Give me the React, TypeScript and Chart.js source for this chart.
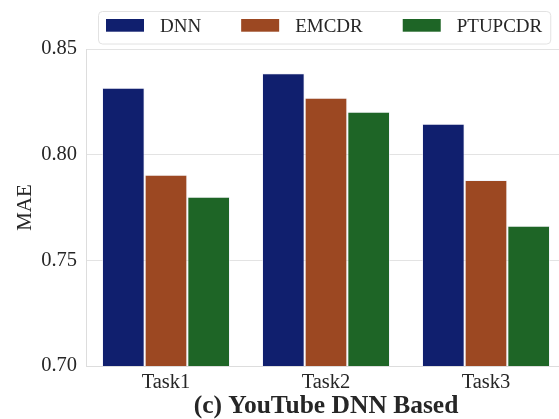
import React, { useEffect, useRef } from "react";
import { Chart, registerables } from "chart.js";

Chart.register(...registerables);

const categories = ["Task1", "Task2", "Task3"];
const seriesNames = ["DNN", "EMCDR", "PTUPCDR"];
const dnnValues = [0.8317, 0.8385, 0.8146];
const emcdrValues = [0.7905, 0.8269, 0.788];
const ptupcdrValues = [0.7801, 0.8203, 0.7664];
const seriesColors = ["#101f6e", "#9c4822", "#1e6526"];
const yTicks = [0.7, 0.75, 0.8, 0.85];
const yMin = 0.7;
const yMax = 0.85;
const yLabel = "MAE";
const chartTitle = "(c) YouTube DNN Based";

const SERIF = "'Liberation Serif', 'DejaVu Serif', serif";
const TEXT = "#262626";

const boxLegend = {
  id: "boxLegend",
  afterDraw(chart: any) {
    const ctx = chart.ctx as CanvasRenderingContext2D;
    ctx.save();
    ctx.font = `19px ${SERIF}`;
    const left = 98;
    const top = 11;
    const boxH = 32.5;
    const padX = 8;
    const swW = 38;
    const swH = 12.7;
    const gap = 16;
    const itemGap = 40;
    const items = chart.data.datasets.map((ds: any) => ({
      label: ds.label as string,
      color: ds.backgroundColor as string,
      w: ctx.measureText(ds.label).width,
    }));
    const total = items.reduce(
      (s: number, it: any, i: number) => s + swW + gap + it.w + (i ? itemGap : 0),
      0
    );
    const boxW = total + padX * 2;
    ctx.beginPath();
    if ((ctx as any).roundRect) {
      (ctx as any).roundRect(left + 0.5, top + 0.5, boxW, boxH, 4);
    } else {
      ctx.rect(left + 0.5, top + 0.5, boxW, boxH);
    }
    ctx.fillStyle = "rgba(255,255,255,0.85)";
    ctx.fill();
    ctx.strokeStyle = "#e2e2e2";
    ctx.lineWidth = 1;
    ctx.stroke();
    let x = left + padX;
    items.forEach((it: any) => {
      ctx.fillStyle = it.color;
      ctx.fillRect(x, top + 8, swW, swH);
      ctx.fillStyle = TEXT;
      ctx.textBaseline = "alphabetic";
      ctx.textAlign = "left";
      ctx.fillText(it.label, x + swW + gap, top + 21.3);
      x += swW + gap + it.w + itemGap;
    });
    ctx.restore();
  },
};

export default function App() {
  const ref = useRef<HTMLCanvasElement>(null);

  useEffect(() => {
    const seriesValues = [dnnValues, emcdrValues, ptupcdrValues];
    const chart = new Chart(ref.current as HTMLCanvasElement, {
      type: "bar",
      data: {
        labels: categories,
        datasets: seriesNames.map((name, i) => ({
          label: name,
          data: seriesValues[i],
          backgroundColor: seriesColors[i],
          borderColor: "rgba(235,235,245,0.55)",
          borderWidth: 1,
          categoryPercentage: 0.8,
          barPercentage: 1,
        })),
      },
      options: {
        animation: false,
        responsive: false,
        layout: { padding: { top: 49, right: 6, bottom: 0, left: 0 } },
        plugins: {
          legend: { display: false },
          tooltip: { enabled: false },
        },
        scales: {
          x: {
            grid: { display: false, drawTicks: false },
            border: { display: true, color: "#dddddd" },
            ticks: {
              font: { family: SERIF, size: 20.5 },
              color: TEXT,
              padding: 4,
            },
            title: {
              display: true,
              text: chartTitle,
              font: { family: SERIF, size: 25.5, weight: "bold", lineHeight: 1 },
              color: TEXT,
              padding: { top: 0, bottom: 0 },
            },
            afterFit(scale: any) {
              scale.height = 53;
            },
          },
          y: {
            min: yMin,
            max: yMax,
            afterBuildTicks(scale: any) {
              scale.ticks = yTicks.map((v) => ({ value: v }));
            },
            grid: { color: "#e3e3e3", drawTicks: false, lineWidth: 1 },
            border: { display: true, color: "#dddddd" },
            ticks: {
              font: { family: SERIF, size: 20.5 },
              color: TEXT,
              padding: 9,
              callback: (v: any) => Number(v).toFixed(2),
            },
            title: {
              display: true,
              text: yLabel,
              font: { family: SERIF, size: 21 },
              color: TEXT,
              padding: { top: 13, bottom: 0 },
            },
            afterFit(scale: any) {
              scale.width = 86;
            },
          },
        },
      } as any,
      plugins: [boxLegend],
    });
    return () => chart.destroy();
  }, []);

  return (
    <div
      style={{
        position: "fixed",
        left: 0,
        top: 0,
        width: 559,
        height: 419,
        overflow: "hidden",
        background: "#ffffff",
      }}
    >
      <canvas ref={ref} width={572} height={419} style={{ display: "block" }} />
    </div>
  );
}
